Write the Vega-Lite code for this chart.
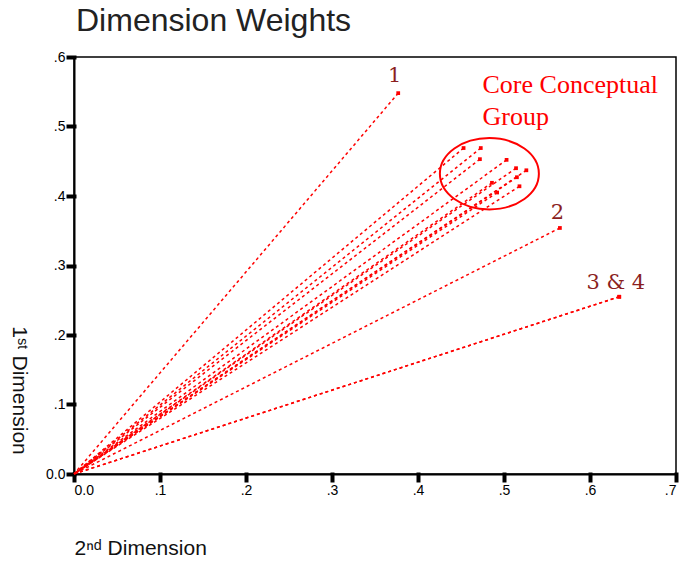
{
  "$schema": "https://vega.github.io/schema/vega-lite/v6.json",
  "width": 602,
  "height": 417,
  "autosize": {"type": "none"},
  "padding": {"left": 74, "top": 57, "right": 3, "bottom": 87},
  "background": "white",
  "title": {
    "text": "Dimension Weights",
    "anchor": "start",
    "frame": "group",
    "font": "Liberation Sans",
    "fontSize": 32,
    "fontWeight": "normal",
    "color": "#222222",
    "offset": 12,
    "dx": 2
  },
  "config": {
    "view": {"stroke": "#000000", "strokeWidth": 1.5},
    "axis": {
      "grid": false,
      "domainColor": "#000000",
      "domainWidth": 2,
      "ticks": true,
      "tickColor": "#000000",
      "tickWidth": 4,
      "tickSize": 6,
      "tickCap": "square",
      "labelFont": "Liberation Sans",
      "labelFontSize": 14,
      "labelColor": "#000000",
      "titleFont": "Liberation Sans",
      "titleFontSize": 21,
      "titleFontWeight": "normal",
      "titleColor": "#111111"
    }
  },
  "datasets": {
    "vectors": [
      {"subject": "1", "dim2": 0.377, "dim1": 0.548},
      {"subject": "2", "dim2": 0.565, "dim1": 0.354},
      {"subject": "3", "dim2": 0.634, "dim1": 0.255},
      {"subject": "4", "dim2": 0.634, "dim1": 0.255},
      {"subject": "c1", "dim2": 0.453, "dim1": 0.469},
      {"subject": "c2", "dim2": 0.473, "dim1": 0.469},
      {"subject": "c3", "dim2": 0.472, "dim1": 0.453},
      {"subject": "c4", "dim2": 0.503, "dim1": 0.452},
      {"subject": "c5", "dim2": 0.514, "dim1": 0.440},
      {"subject": "c6", "dim2": 0.526, "dim1": 0.437},
      {"subject": "c7", "dim2": 0.515, "dim1": 0.427},
      {"subject": "c8", "dim2": 0.518, "dim1": 0.414},
      {"subject": "c9", "dim2": 0.492, "dim1": 0.405},
      {"subject": "c10", "dim2": 0.486, "dim1": 0.419}
    ],
    "numlabels": [
      {"label": "1", "dim2": 0.373, "dim1": 0.572},
      {"label": "2", "dim2": 0.562, "dim1": 0.375},
      {"label": "3 & 4", "dim2": 0.630, "dim1": 0.275}
    ],
    "grouplabel": [
      {"label": "Core Conceptual", "dim2": 0.475, "dim1": 0.560},
      {"label": "Group", "dim2": 0.475, "dim1": 0.514}
    ],
    "circle": [
      {"dim2": 0.483, "dim1": 0.432}
    ]
  },
  "layer": [
    {
      "data": {"name": "vectors"},
      "mark": {"type": "rule", "color": "#ff0000", "strokeWidth": 1.5, "strokeDash": [3, 3]},
      "encoding": {
        "x": {
          "field": "dim2",
          "type": "quantitative",
          "scale": {"domain": [0, 0.7], "nice": false, "zero": true},
          "axis": {
            "values": [0, 0.1, 0.2, 0.3, 0.4, 0.5, 0.6, 0.7],
            "labelExpr": "datum.value == 0 ? '0.0' : replace(format(datum.value, '.1f'), '0.', '.')",
            "labelPadding": 3,
            "title": "2ⁿᵈ Dimension",
            "titleAnchor": "start",
            "titleAlign": "left",
            "titleBaseline": "middle",
            "titleX": 0,
            "titleY": 74
          }
        },
        "y": {
          "field": "dim1",
          "type": "quantitative",
          "scale": {"domain": [0, 0.6], "nice": false, "zero": true},
          "axis": {
            "values": [0, 0.1, 0.2, 0.3, 0.4, 0.5, 0.6],
            "labelExpr": "datum.value == 0 ? '0.0' : replace(format(datum.value, '.1f'), '0.', '.')",
            "labelPadding": 3,
            "title": "1ˢᵗ Dimension",
            "titleAngle": 90,
            "titleAlign": "center",
            "titleBaseline": "middle",
            "titleX": -56,
            "titleY": 333
          }
        },
        "x2": {"datum": 0},
        "y2": {"datum": 0},
        "detail": {"field": "subject"}
      }
    },
    {
      "data": {"name": "vectors"},
      "mark": {"type": "square", "color": "#ff0000", "filled": true, "size": 14, "opacity": 1},
      "encoding": {
        "x": {"field": "dim2", "type": "quantitative"},
        "y": {"field": "dim1", "type": "quantitative"}
      }
    },
    {
      "data": {"name": "circle"},
      "mark": {
        "type": "point",
        "shape": "M -1 0 A 1 0.72 0 1 0 1 0 A 1 0.72 0 1 0 -1 0 Z",
        "size": 9801,
        "filled": false,
        "stroke": "#ff0000",
        "strokeWidth": 2,
        "opacity": 1
      },
      "encoding": {
        "x": {"field": "dim2", "type": "quantitative"},
        "y": {"field": "dim1", "type": "quantitative"}
      }
    },
    {
      "data": {"name": "numlabels"},
      "mark": {"type": "text", "font": "DejaVu Serif", "fontSize": 21, "color": "#8b1f1f", "align": "center", "baseline": "middle"},
      "encoding": {
        "x": {"field": "dim2", "type": "quantitative"},
        "y": {"field": "dim1", "type": "quantitative"},
        "text": {"field": "label"}
      }
    },
    {
      "data": {"name": "grouplabel"},
      "mark": {"type": "text", "font": "Liberation Serif", "fontSize": 26, "color": "#ff0000", "align": "left", "baseline": "middle"},
      "encoding": {
        "x": {"field": "dim2", "type": "quantitative"},
        "y": {"field": "dim1", "type": "quantitative"},
        "text": {"field": "label"}
      }
    }
  ]
}
